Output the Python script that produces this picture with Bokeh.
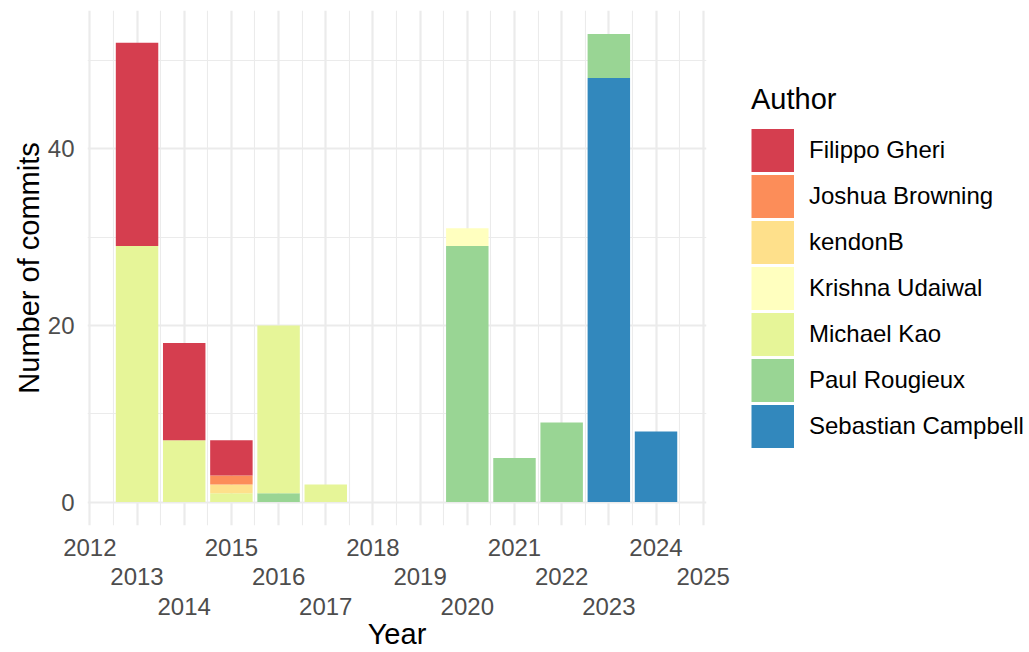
from bokeh.plotting import figure
from bokeh.layouts import row
from bokeh.models import Range1d, FixedTicker, Legend, LegendItem, ColumnDataSource
from bokeh.embed import file_html
from bokeh.resources import INLINE

# ---- data ----
years = [2013, 2014, 2015, 2016, 2017, 2020, 2021, 2022, 2023, 2024]
authors = ["Filippo Gheri", "Joshua Browning", "kendonB", "Krishna Udaiwal",
           "Michael Kao", "Paul Rougieux", "Sebastian Campbell"]
colors = ["#D53E4F", "#FC8D59", "#FEE08B", "#FFFFBF", "#E6F598", "#99D594", "#3288BD"]
filippo_gheri = [23, 11, 4, 0, 0, 0, 0, 0, 0, 0]
joshua_browning = [0, 0, 1, 0, 0, 0, 0, 0, 0, 0]
kendonb = [0, 0, 1, 0, 0, 0, 0, 0, 0, 0]
krishna_udaiwal = [0, 0, 0, 0, 0, 2, 0, 0, 0, 0]
michael_kao = [29, 7, 1, 19, 2, 0, 0, 0, 0, 0]
paul_rougieux = [0, 0, 0, 1, 0, 29, 5, 9, 5, 0]
sebastian_campbell = [0, 0, 0, 0, 0, 0, 0, 0, 48, 8]
x_tick_years = list(range(2012, 2026))
y_ticks = [0, 20, 40]
y_minor = [10, 30, 50]

series = [filippo_gheri, joshua_browning, kendonb, krishna_udaiwal,
          michael_kao, paul_rougieux, sebastian_campbell]

data = {"year": years}
for a, s in zip(authors, series):
    data[a] = s
source = ColumnDataSource(data)

FONT = "Liberation Sans"
GRID = "#EBEBEB"

x_lo, x_hi = 2011.95, 2025.07
p = figure(width=740, height=652, output_backend="svg", toolbar_location=None,
           x_range=Range1d(x_lo, x_hi), y_range=Range1d(-2.65, 55.65),
           min_border_left=87, min_border_right=34, min_border_top=10,
           min_border_bottom=127)
p.outline_line_color = None
p.background_fill_color = "white"
p.border_fill_color = "white"

# stack bottom -> top (ggplot puts first level on top)
stack_order = list(reversed(authors))
stack_colors = list(reversed(colors))
p.vbar_stack(stack_order, x="year", width=0.9, source=source,
             color=stack_colors, line_color=None)

# axes
p.xaxis.ticker = FixedTicker(ticks=x_tick_years,
                             minor_ticks=[y + 0.5 for y in x_tick_years[:-1]])
overrides = {}
for i, y in enumerate(x_tick_years):
    overrides[y] = "\n" * (i % 3) + str(y)
p.xaxis.major_label_overrides = overrides
p.yaxis.ticker = FixedTicker(ticks=y_ticks, minor_ticks=y_minor)

for ax in (p.xaxis[0], p.yaxis[0]):
    ax.axis_line_color = None
    ax.major_tick_line_color = None
    ax.minor_tick_line_color = None
    ax.major_tick_out = 0
    ax.major_tick_in = 0
    ax.major_label_text_font = FONT
    ax.major_label_text_font_size = "24px"
    ax.major_label_text_color = "#4D4D4D"
    ax.axis_label_text_font = FONT
    ax.axis_label_text_font_size = "29px"
    ax.axis_label_text_font_style = "normal"
    ax.axis_label_text_color = "black"

p.xaxis.axis_label = "Year"
p.xaxis.major_label_standoff = 4
p.xaxis.major_label_text_line_height = 1.1
p.xaxis.axis_label_standoff = -5
p.yaxis.axis_label = "Number of commits"
p.yaxis.major_label_standoff = 9
p.yaxis.axis_label_standoff = 0

for g in (p.xgrid[0], p.ygrid[0]):
    g.grid_line_color = GRID
    g.grid_line_width = 2.2
    g.minor_grid_line_color = GRID
    g.minor_grid_line_width = 1.1

# legend panel (separate figure so the legend is not clipped by the bar panel)
lg = figure(width=289, height=652, output_backend="svg", toolbar_location=None,
            x_range=Range1d(0, 1), y_range=Range1d(0, 1),
            x_axis_location=None, y_axis_location=None,
            min_border_left=0, min_border_right=0, min_border_top=0,
            min_border_bottom=0)
lg.grid.visible = False
lg.outline_line_color = None
lg.border_fill_color = "white"
lg.background_fill_color = "white"

# legend swatches: one line renderer per author (series lie outside this
# panel's 0..1 ranges, so only the legend swatch is visible)
proxies = {}
for a, c in zip(authors, colors):
    proxies[a] = lg.line(x="year", y=a, source=source, line_color=c,
                         line_width=43, line_cap="butt")

legend = Legend(items=[LegendItem(label=a, renderers=[proxies[a]]) for a in authors],
                location=(11, 76), title="Author")
legend.title_text_font = FONT
legend.title_text_font_size = "29px"
legend.title_text_font_style = "normal"
legend.title_text_color = "black"
legend.title_standoff = 11
legend.label_text_font = FONT
legend.label_text_font_size = "24px"
legend.label_text_color = "black"
legend.glyph_width = 43
legend.glyph_height = 46
legend.spacing = 0
legend.label_standoff = 15
legend.padding = 10
legend.margin = 0
legend.border_line_color = None
legend.background_fill_alpha = 0
lg.add_layout(legend, "center")

open("out.html", "w").write(file_html(row(p, lg), INLINE))
